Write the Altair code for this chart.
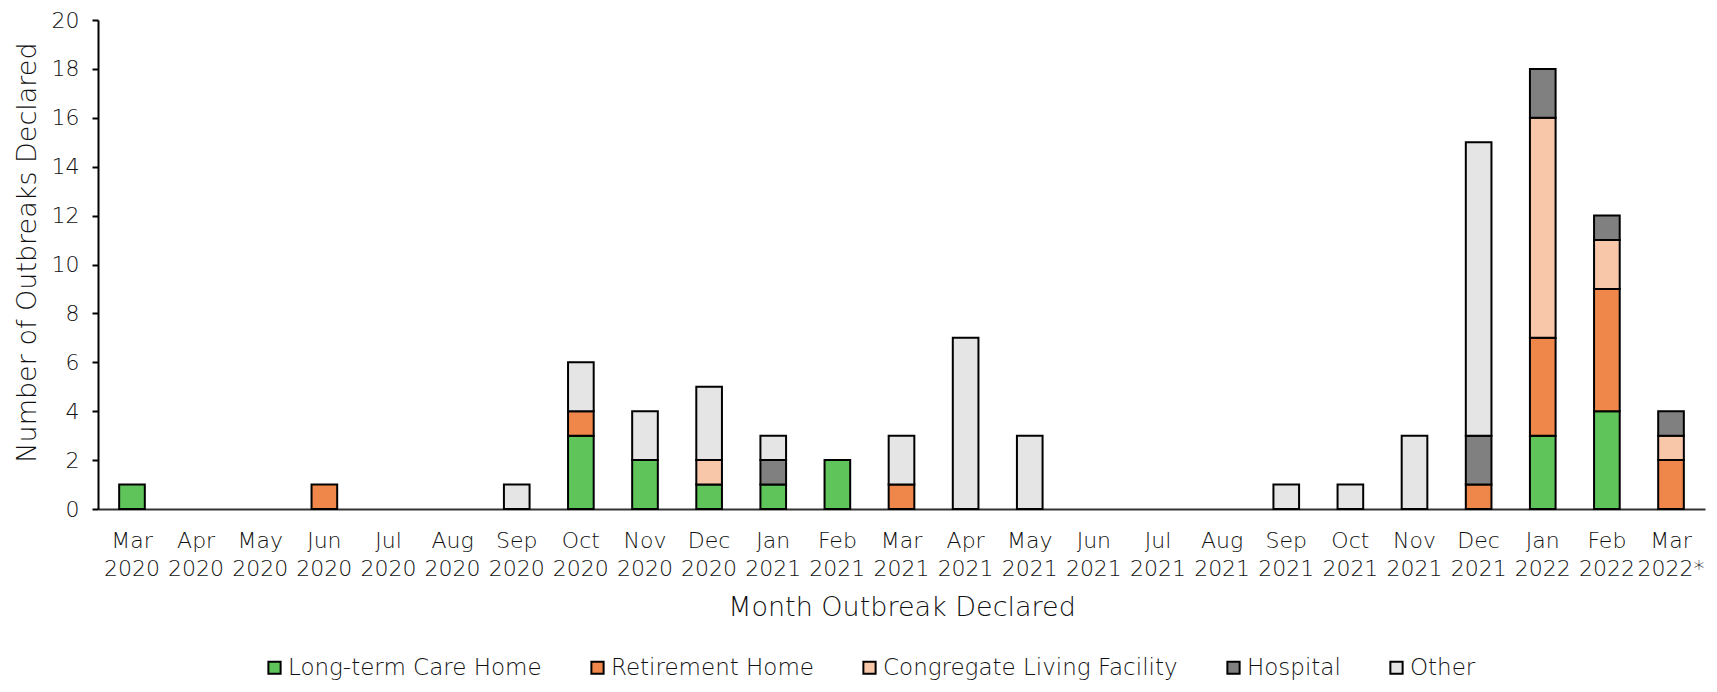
import altair as alt
import pandas as pd

months = ["Mar 2020", "Apr 2020", "May 2020", "Jun 2020", "Jul 2020", "Aug 2020",
          "Sep 2020", "Oct 2020", "Nov 2020", "Dec 2020", "Jan 2021", "Feb 2021",
          "Mar 2021", "Apr 2021", "May 2021", "Jun 2021", "Jul 2021", "Aug 2021",
          "Sep 2021", "Oct 2021", "Nov 2021", "Dec 2021", "Jan 2022", "Feb 2022",
          "Mar 2022*"]

categories = ["Long-term Care Home", "Retirement Home", "Congregate Living Facility",
              "Hospital", "Other"]

ltc   = [1, 0, 0, 0, 0, 0, 0, 3, 2, 1, 1, 2, 0, 0, 0, 0, 0, 0, 0, 0, 0, 0, 3, 4, 0]
rh    = [0, 0, 0, 1, 0, 0, 0, 1, 0, 0, 0, 0, 1, 0, 0, 0, 0, 0, 0, 0, 0, 1, 4, 5, 2]
clf   = [0, 0, 0, 0, 0, 0, 0, 0, 0, 1, 0, 0, 0, 0, 0, 0, 0, 0, 0, 0, 0, 0, 9, 2, 1]
hosp  = [0, 0, 0, 0, 0, 0, 0, 0, 0, 0, 1, 0, 0, 0, 0, 0, 0, 0, 0, 0, 0, 2, 2, 1, 1]
other = [0, 0, 0, 0, 0, 0, 1, 2, 2, 3, 1, 0, 2, 7, 3, 0, 0, 0, 1, 1, 3, 12, 0, 0, 0]

colors = ["#5FC55A", "#F0874A", "#F8C7AA", "#808080", "#E5E5E5"]

rows = []
for cat_i, (cat, series) in enumerate(zip(categories, [ltc, rh, clf, hosp, other])):
    for m, v in zip(months, series):
        if v > 0:
            rows.append({"month": m, "category": cat, "value": v, "ord": cat_i})
df = pd.DataFrame(rows)

FONT = "DejaVu Sans"
TXT = "#111111"
W = 300

chart = alt.Chart(df).mark_bar(stroke="black", strokeWidth=2).encode(
    x=alt.X("month:N", sort=months,
            scale=alt.Scale(domain=months, paddingInner=0.6, paddingOuter=0.33),
            axis=alt.Axis(title="Month Outbreak Declared", labelAngle=0,
                          labelExpr="split(datum.label, ' ')",
                          labelLineHeight=28, labelFontSize=22, labelFont=FONT,
                          labelFontWeight=W,
                          labelColor=TXT, labelPadding=21, labelBaseline="top",
                          ticks=False, domainColor="#333333", domainWidth=2,
                          titleFontSize=27, titleFont=FONT, titleFontWeight=W,
                          titleColor=TXT, titlePadding=15)),
    y=alt.Y("value:Q", stack="zero",
            scale=alt.Scale(domain=[0, 20], nice=False),
            axis=alt.Axis(title="Number of Outbreaks Declared",
                          values=list(range(0, 21, 2)), grid=False,
                          tickSize=6, tickColor="black", tickWidth=2,
                          domainColor="black", domainWidth=2,
                          labelFontSize=22, labelFont=FONT, labelColor=TXT,
                          labelFontWeight=W, labelPadding=13,
                          titleFontSize=27, titleFont=FONT, titleFontWeight=W,
                          titleColor=TXT, titlePadding=10, titleY=232)),
    color=alt.Color("category:N", sort=categories,
                    scale=alt.Scale(domain=categories, range=colors),
                    legend=alt.Legend(title=None, orient="none", direction="horizontal",
                                      legendX=165, legendY=636,
                                      symbolType="square", symbolSize=150,
                                      symbolStrokeColor="black", symbolStrokeWidth=2,
                                      labelFontSize=23, labelFont=FONT, labelColor=TXT,
                                      labelFontWeight=W, labelLimit=500,
                                      labelOffset=2, columnPadding=44,
                                      symbolOpacity=1)),
    order=alt.Order("ord:Q"),
).properties(
    width=1607, height=489,
    autosize=alt.AutoSizeParams(type="none"),
    padding={"left": 90, "top": 12, "right": 4, "bottom": 175},
).configure_view(stroke=None)

chart.save("out.html", embed_options={"renderer": "svg", "actions": False})
